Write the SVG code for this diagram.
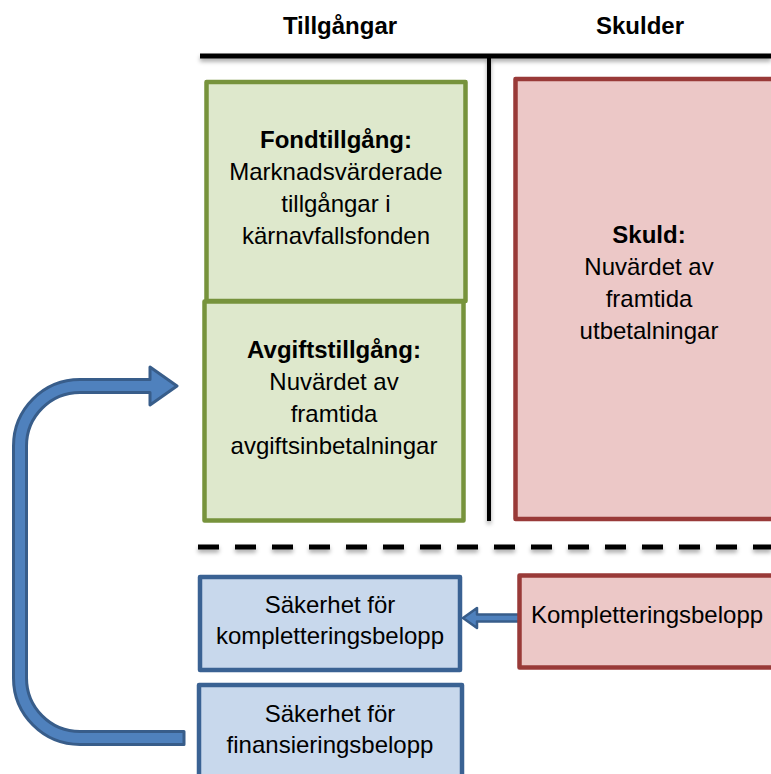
<svg xmlns="http://www.w3.org/2000/svg" width="771" height="774" viewBox="0 0 771 774">
<style>
text{font-family:"Liberation Sans",Arial,sans-serif;font-size:24px;fill:#000;text-anchor:middle}
.b{font-weight:bold}
.green rect{fill:#dee8cc;stroke:#77933c;stroke-width:4.5;stroke-linejoin:round}
.red rect{fill:#ecc8c7;stroke:#993a38;stroke-width:4.5;stroke-linejoin:round}
.blue rect{fill:#c8d8ec;stroke:#3a6293;stroke-width:4.5;stroke-linejoin:round}
.arrow{fill:#4f81bd;stroke:#385d8a;stroke-linejoin:round}
.rule{stroke:#000;fill:none;filter:url(#sh)}
</style>
<defs>
<filter id="sh" filterUnits="userSpaceOnUse" x="0" y="0" width="771" height="774">
<feDropShadow dx="0" dy="3" stdDeviation="2" flood-color="#000" flood-opacity="0.35"/>
</filter>
</defs>
<g id="headers">
<text class="b" x="340" y="34">Tillgångar</text>
<text class="b" x="640" y="34">Skulder</text>
<line class="rule" x1="200" y1="56" x2="771" y2="56" stroke-width="5"/>
<line class="rule" x1="489" y1="58" x2="489" y2="521" stroke-width="4"/>
<line class="rule" x1="198" y1="547" x2="771" y2="547" stroke-width="5" stroke-dasharray="21 16"/>
</g>
<g id="connectors">
<path class="arrow" stroke-width="3" d="M184 744.5 L80 744.5 A66.5 66.5 0 0 1 13.5 678 L13.5 446 A66.5 66.5 0 0 1 80 379.5 L150 379.5 L150 367 L177 386 L150 405 L150 392.5 L80 392.5 A53.5 53.5 0 0 0 26.5 446 L26.5 678 A53.5 53.5 0 0 0 80 731.5 L184 731.5 Z"/>
<path class="arrow" stroke-width="2.5" d="M463 618 L477 608 L477 614.5 L521 614.5 L521 621.5 L477 621.5 L477 628 Z"/>
</g>
<g id="fondtillgang" class="green">
<rect x="206.5" y="82" width="259" height="219"/>
<text class="b" x="336" y="148">Fondtillgång:</text>
<text x="336" y="180">Marknadsvärderade</text>
<text x="336" y="212">tillgångar i</text>
<text x="336" y="244">kärnavfallsfonden</text>
</g>
<g id="avgiftstillgang" class="green">
<rect x="204.5" y="301.5" width="259" height="219"/>
<text class="b" x="334" y="358">Avgiftstillgång:</text>
<text x="334" y="390">Nuvärdet av</text>
<text x="334" y="422">framtida</text>
<text x="334" y="454">avgiftsinbetalningar</text>
</g>
<g id="skuld" class="red">
<rect x="515.5" y="79" width="270" height="440"/>
<text class="b" x="649" y="243">Skuld:</text>
<text x="649" y="275">Nuvärdet av</text>
<text x="649" y="307">framtida</text>
<text x="649" y="339">utbetalningar</text>
</g>
<g id="kompletteringsbelopp" class="red">
<rect x="519.5" y="575.5" width="270" height="92"/>
<text x="647" y="623">Kompletteringsbelopp</text>
</g>
<g id="sakerhet-komplettering" class="blue">
<rect x="200" y="577" width="260" height="93"/>
<text x="330" y="613">Säkerhet för</text>
<text x="330" y="644">kompletteringsbelopp</text>
</g>
<g id="sakerhet-finansiering" class="blue">
<rect x="199" y="685" width="263" height="100"/>
<text x="330" y="722">Säkerhet för</text>
<text x="330" y="753">finansieringsbelopp</text>
</g>
</svg>
